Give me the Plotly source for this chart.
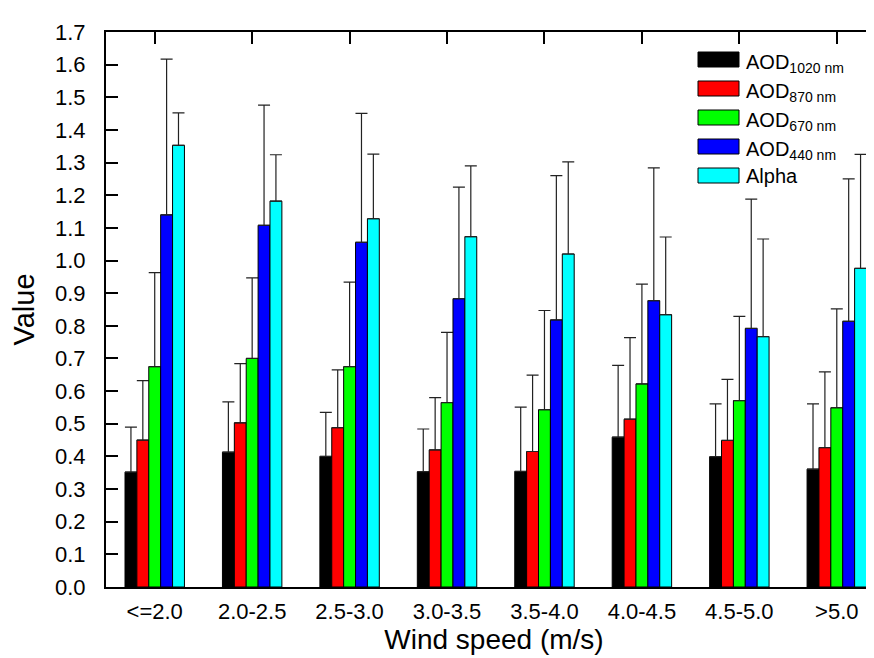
import plotly.graph_objects as go

categories = ["<=2.0", "2.0-2.5", "2.5-3.0", "3.0-3.5", "3.5-4.0", "4.0-4.5", "4.5-5.0", ">5.0"]

aod1020 = [0.352, 0.413, 0.400, 0.353, 0.354, 0.459, 0.399, 0.361]
aod870 = [0.450, 0.503, 0.488, 0.420, 0.415, 0.514, 0.449, 0.427]
aod670 = [0.675, 0.700, 0.675, 0.565, 0.543, 0.622, 0.571, 0.549]
aod440 = [1.140, 1.108, 1.056, 0.883, 0.818, 0.877, 0.792, 0.814]
alpha = [1.353, 1.182, 1.128, 1.073, 1.020, 0.834, 0.767, 0.976]

aod1020_top = [0.490, 0.567, 0.535, 0.484, 0.551, 0.679, 0.561, 0.561]
aod870_top = [0.632, 0.684, 0.665, 0.580, 0.649, 0.764, 0.636, 0.659]
aod670_top = [0.963, 0.947, 0.934, 0.780, 0.847, 0.928, 0.829, 0.852]
aod440_top = [1.617, 1.476, 1.451, 1.225, 1.260, 1.284, 1.188, 1.250]
alpha_top = [1.452, 1.324, 1.326, 1.290, 1.302, 1.072, 1.066, 1.325]

series_names = ["AOD<sub>1020 nm</sub>", "AOD<sub>870 nm</sub>", "AOD<sub>670 nm</sub>",
                "AOD<sub>440 nm</sub>", "Alpha"]
series_vals = [aod1020, aod870, aod670, aod440, alpha]
series_tops = [aod1020_top, aod870_top, aod670_top, aod440_top, alpha_top]
colors = ["#000000", "#FF0000", "#00FF00", "#0000FF", "#00FFFF"]

W, H = 874, 658
ML, MR, MT, MB = 98, 0, 24, 79
PW, PH = W - ML - MR, H - MT - MB


def px_x(x):
    return (x - ML) / PW


def px_y(y):
    return (H - MB - y) / PH


fig = go.Figure()
for name, vals, tops, col in zip(series_names, series_vals, series_tops, colors):
    plus = [t - v for t, v in zip(tops, vals)]
    fig.add_trace(go.Bar(
        x=categories, y=vals, name=name, showlegend=False,
        marker=dict(color=col, line=dict(color="#000000", width=1)),
        error_y=dict(type="data", array=plus, arrayminus=[0] * len(vals),
                     symmetric=False, color="#222222", thickness=1.2, width=6),
    ))

# legend drawn as swatches + labels (larger swatches like the original)
shapes = []
annotations = []
row_top0, row_step = 44, 29
for i, (name, col) in enumerate(zip(series_names, colors)):
    y0 = row_top0 + i * row_step
    shapes.append(dict(type="rect", xref="paper", yref="paper",
                       x0=px_x(690), x1=px_x(731), y0=px_y(y0 + 15), y1=px_y(y0),
                       fillcolor=col, line=dict(color="#000000", width=1)))
    shift = 4 if "<sub>" in name else 0
    annotations.append(dict(xref="paper", yref="paper", x=px_x(736), y=px_y(y0 + 7.5),
                            xanchor="left", yanchor="middle", yshift=-shift,
                            text=name, showarrow=False,
                            font=dict(size=20)))

font_family = "Liberation Sans, Arial, sans-serif"
fig.update_layout(
    width=W, height=H,
    margin=dict(l=ML, r=MR, t=MT, b=MB),
    paper_bgcolor="white", plot_bgcolor="white",
    barmode="group", bargap=0.39, bargroupgap=0,
    font=dict(family=font_family, color="black", size=20),
    showlegend=False,
    shapes=shapes, annotations=annotations,
    xaxis=dict(
        range=[-0.5, 7.464], showline=True, linewidth=2, linecolor="black",
        mirror="ticks", ticks="inside", ticklen=12, tickwidth=2, tickcolor="black",
        tickfont=dict(size=22), layer="below traces", ticklabelstandoff=4,
        title=dict(text="Wind speed (m/s)", font=dict(size=28), standoff=2),
        showgrid=False, zeroline=False, automargin=False,
    ),
    yaxis=dict(
        range=[0, 1.7], dtick=0.1, tick0=0, tickformat=".1f",
        showline=True, linewidth=2, linecolor="black",
        mirror="ticks", ticks="inside", ticklen=12, tickwidth=2, tickcolor="black",
        tickfont=dict(size=22), ticklabelstandoff=14,
        title=dict(text="Value", font=dict(size=29), standoff=16),
        showgrid=False, zeroline=False, automargin=False,
    ),
)

fig.write_html("out.html")
